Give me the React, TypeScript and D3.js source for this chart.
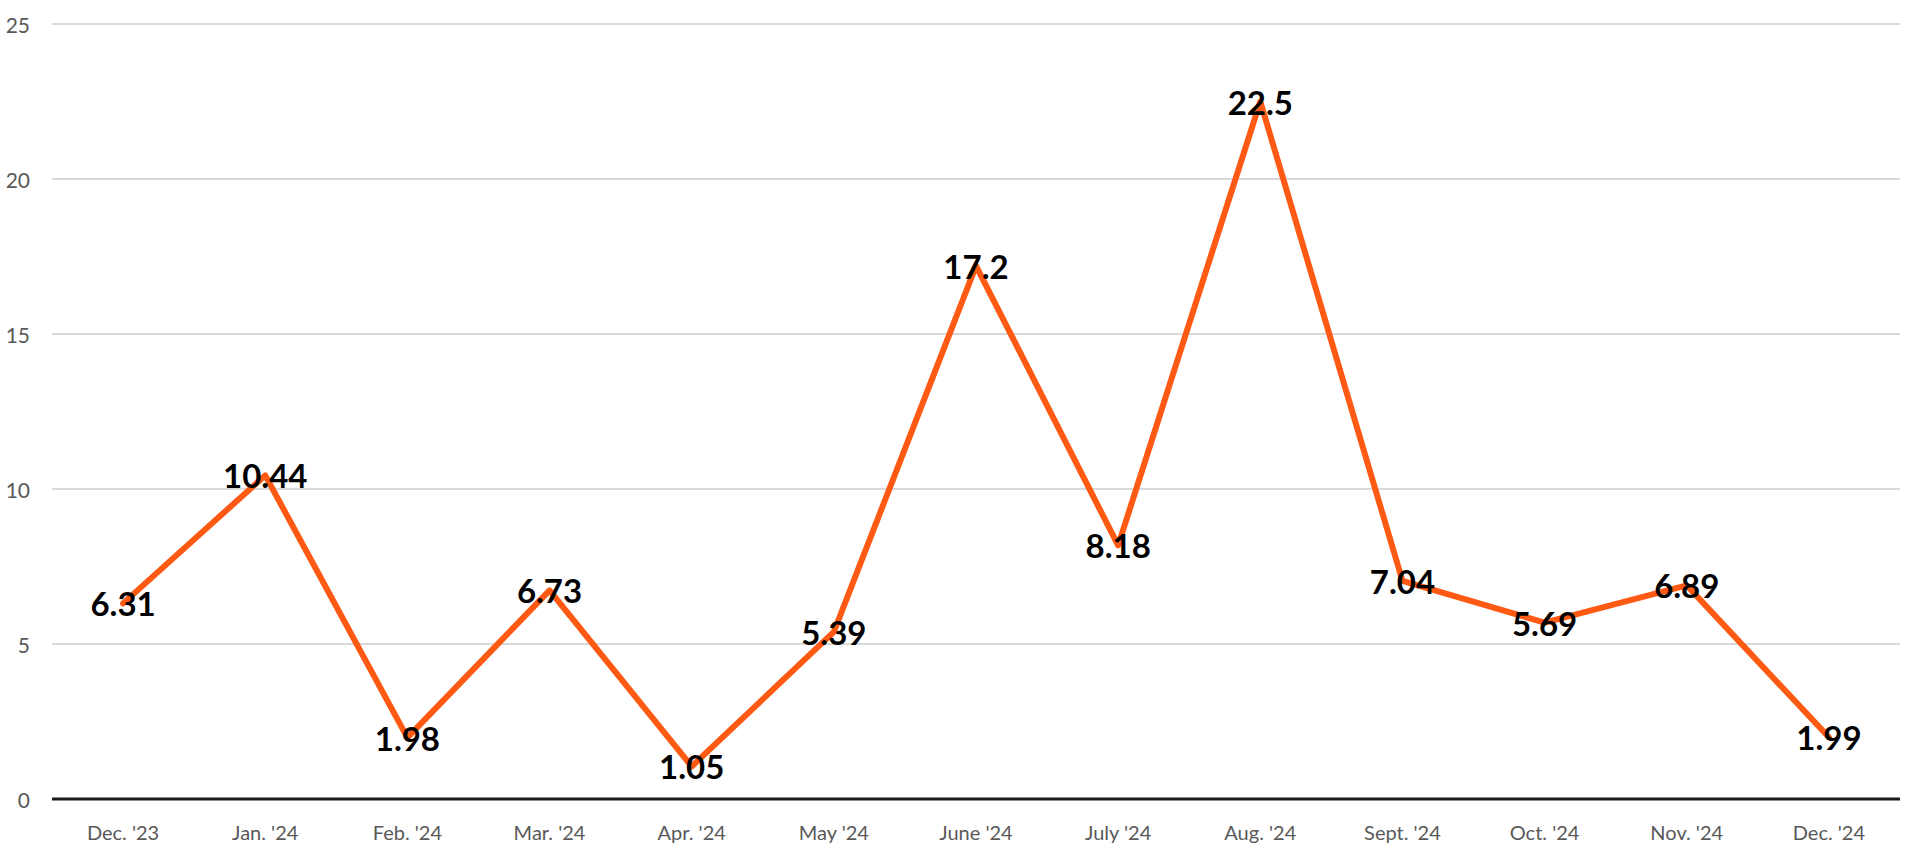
import React from "react";
import * as d3 from "d3";

const categories = ["Dec. '23", "Jan. '24", "Feb. '24", "Mar. '24", "Apr. '24", "May '24", "June '24", "July '24", "Aug. '24", "Sept. '24", "Oct. '24", "Nov. '24", "Dec. '24"];
const values = [6.31, 10.44, 1.98, 6.73, 1.05, 5.39, 17.2, 8.18, 22.5, 7.04, 5.69, 6.89, 1.99];
const valueLabels = ["6.31", "10.44", "1.98", "6.73", "1.05", "5.39", "17.2", "8.18", "22.5", "7.04", "5.69", "6.89", "1.99"];
const yTicks = [0, 5, 10, 15, 20, 25];

const W = 1920;
const H = 854;
const left = 52;
const right = 1900;
const top = 24;
const bottom = 799;

export default function App() {
  const x = d3.scaleBand<string>().domain(categories).range([left, right]);
  const y = d3.scaleLinear().domain([0, 25]).range([bottom, top]);
  const cx = (c: string) => (x(c) as number) + x.bandwidth() / 2;
  const line = d3
    .line<number>()
    .x((_, i) => cx(categories[i]))
    .y((d) => y(d));

  return (
    <svg
      width={W}
      height={H}
      style={{ position: "absolute", left: 0, top: 0, background: "#fff" }}
    >
      {yTicks.map((t) => (
        <g key={t}>
          {t !== 0 && (
            <line x1={left} x2={right} y1={y(t)} y2={y(t)} stroke="#d9d9d9" strokeWidth={2} />
          )}
          <text
            x={30}
            y={y(t)}
            textAnchor="end"
            dominantBaseline="central"
            fontFamily="Lato, 'Open Sans', sans-serif"
            fontSize={21}
            fill="#595959"
          >
            {t}
          </text>
        </g>
      ))}
      <line x1={left} x2={right} y1={y(0)} y2={y(0)} stroke="#1a1a1a" strokeWidth={3} />
      {categories.map((c) => (
        <text
          key={c}
          x={cx(c)}
          y={832}
          textAnchor="middle"
          dominantBaseline="central"
          fontFamily="Lato, 'Open Sans', sans-serif"
          fontSize={20}
          fill="#595959"
        >
          {c}
        </text>
      ))}
      <path
        d={line(values) || ""}
        fill="none"
        stroke="#ff5a14"
        strokeWidth={6}
        strokeLinejoin="round"
        strokeLinecap="round"
      />
      {values.map((v, i) => (
        <text
          key={i}
          x={cx(categories[i])}
          y={y(v)}
          textAnchor="middle"
          dominantBaseline="central"
          fontFamily="Lato, 'Open Sans', sans-serif"
          fontWeight="bold"
          fontSize={33}
          fill="#000"
        >
          {valueLabels[i]}
        </text>
      ))}
    </svg>
  );
}
